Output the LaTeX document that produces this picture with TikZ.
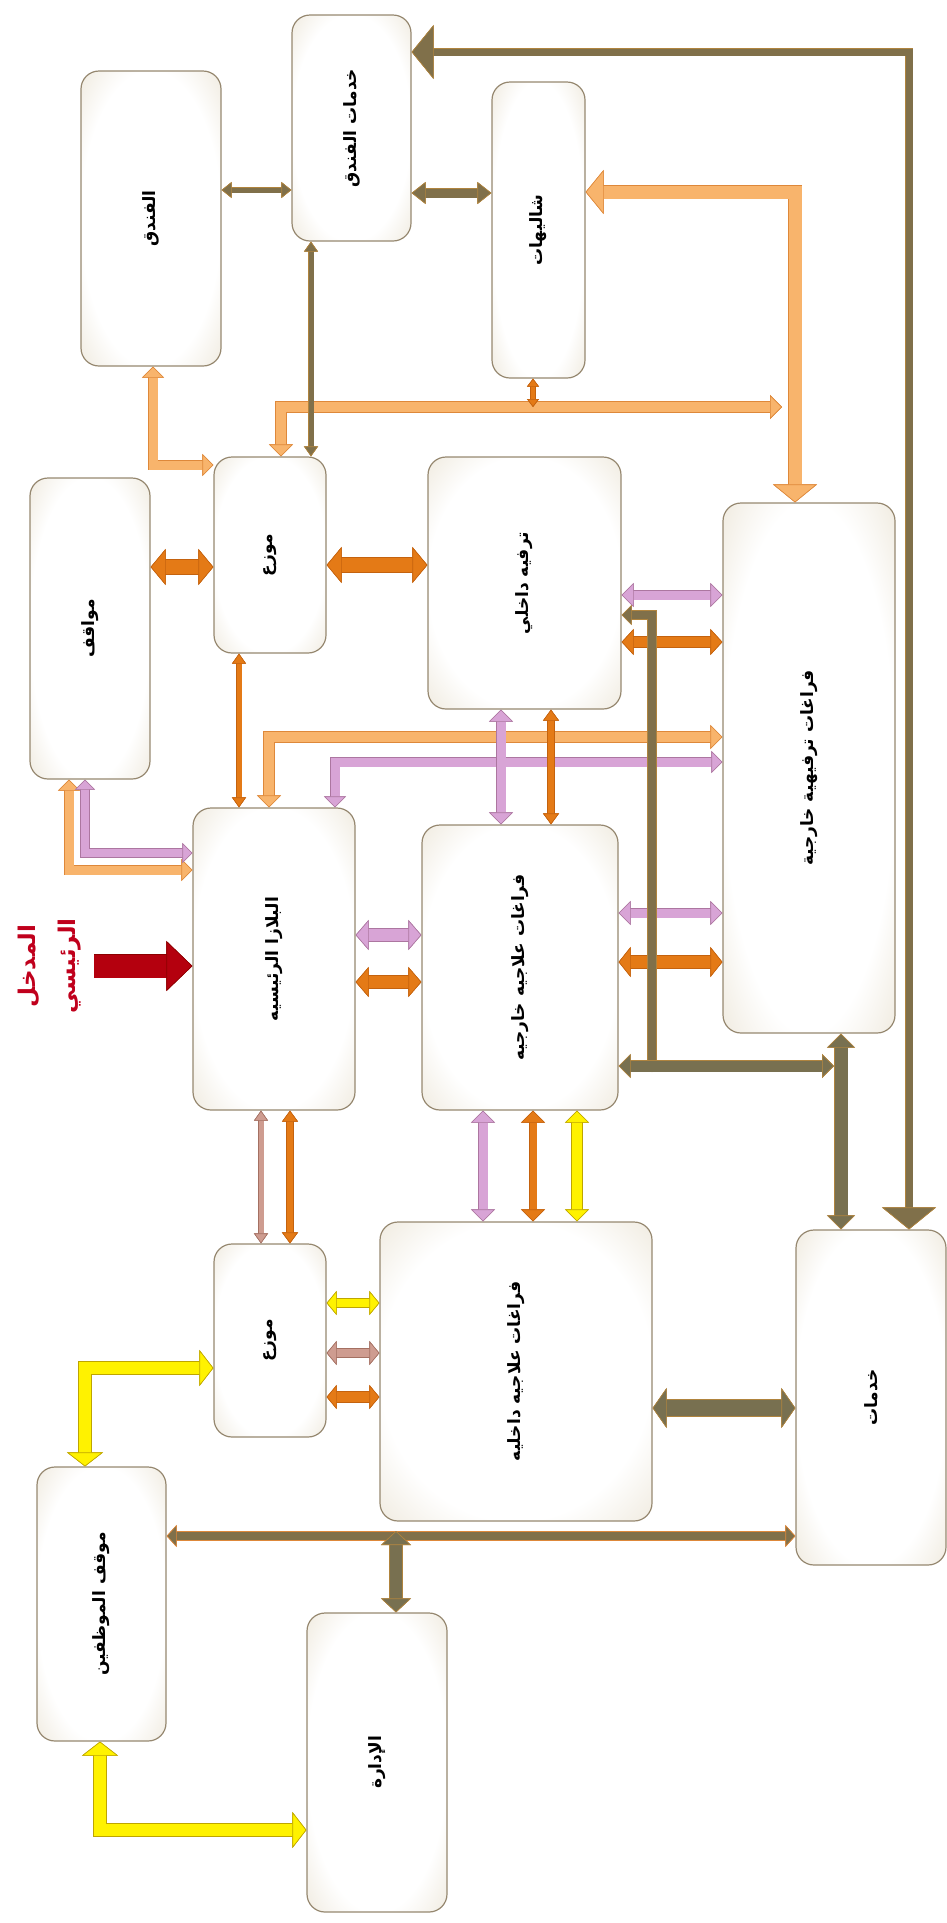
\documentclass[tikz,border=0pt]{standalone}
\usepackage{fontspec}
\usepackage{graphicx}
\newfontfamily\arabicfont[Script=Arabic]{DejaVu Sans}
\TeXXeTstate=1
\usepackage{tikz}
\usetikzlibrary{arrows.meta}
\definecolor{boxbeige}{RGB}{228,219,199}
\definecolor{boxedge}{RGB}{150,136,112}
\definecolor{mybrown}{RGB}{128,112,74}
\definecolor{mybrownedge}{RGB}{176,132,62}
\definecolor{myolive}{RGB}{120,112,80}
\definecolor{myorange}{RGB}{228,122,22}
\definecolor{myorangeedge}{RGB}{196,98,14}
\definecolor{mylightorange}{RGB}{248,180,108}
\definecolor{mylightorangeedge}{RGB}{222,136,58}
\definecolor{mypink}{RGB}{216,164,214}
\definecolor{mypinkedge}{RGB}{172,118,160}
\definecolor{myrosy}{RGB}{206,156,144}
\definecolor{myrosyedge}{RGB}{164,112,98}
\definecolor{myyellow}{RGB}{255,242,0}
\definecolor{myyellowedge}{RGB}{190,165,0}
\definecolor{myred}{RGB}{180,0,14}
\definecolor{myrededge}{RGB}{140,0,0}
\definecolor{mytextred}{RGB}{192,0,28}
\pgfdeclareradialshading{boxglow}{\pgfpoint{0bp}{0bp}}{color(0bp)=(white); color(25bp)=(white); color(44bp)=(boxbeige); color(72bp)=(boxbeige)}

\begin{document}
\begin{tikzpicture}[x=1pt, y=-1pt,
    zone/.style={draw=boxedge, line width=1.2pt, rounded corners=18pt, shade, shading=boxglow,
      inner sep=0pt, font=\arabicfont\bfseries\fontsize{17}{20}\selectfont},
    pipe/.style n args={5}{>={Triangle[length=#5pt, width=#4pt, color=#2, fill=#1, line width=0.6pt]},
      preaction={draw=#2, line width=#3pt+1.4pt}, draw=#1, line width=#3pt},
    entry/.style={text=mytextred, inner sep=0pt, font=\arabicfont\bfseries\fontsize{23}{40}\selectfont}]
  \useasboundingbox (0,0) rectangle (947,1923);

  \node[zone, minimum width=140pt, minimum height=295pt] (hotel) at (151,218.5) {\rotatebox{90}{\beginR الفندق\endR}};
  \node[zone, minimum width=119pt, minimum height=226pt] (hotelsvc) at (351.5,128) {\rotatebox{90}{\beginR خدمات الفندق\endR}};
  \node[zone, minimum width=93pt, minimum height=296pt] (chalets) at (538.5,230) {\rotatebox{90}{\beginR شاليهات\endR}};
  \node[zone, minimum width=120pt, minimum height=301pt] (parking) at (90,628.5) {\rotatebox{90}{\beginR مواقف\endR}};
  \node[zone, minimum width=112pt, minimum height=196pt] (distA) at (270,555) {\rotatebox{90}{\beginR موزع\endR}};
  \node[zone, minimum width=193pt, minimum height=252pt] (indoorfun) at (524.5,583) {\rotatebox{90}{\beginR ترفيه داخلي\endR}};
  \node[zone, minimum width=172pt, minimum height=530pt] (outfun) at (809,768) {\rotatebox{90}{\beginR فراغات ترفيهية خارجية\endR}};
  \node[zone, minimum width=162pt, minimum height=302pt] (plaza) at (274,959) {\rotatebox{90}{\beginR البلازا الرئيسيه\endR}};
  \node[zone, minimum width=196pt, minimum height=285pt] (outcure) at (520,967.5) {\rotatebox{90}{\beginR فراغات علاجيه خارجيه\endR}};
  \node[zone, minimum width=112pt, minimum height=193pt] (distB) at (270,1340.5) {\rotatebox{90}{\beginR موزع\endR}};
  \node[zone, minimum width=272pt, minimum height=299pt] (incure) at (516,1371.5) {\rotatebox{90}{\beginR فراغات علاجيه داخليه\endR}};
  \node[zone, minimum width=150pt, minimum height=335pt] (services) at (871,1397.5) {\rotatebox{90}{\beginR خدمات\endR}};
  \node[zone, minimum width=129pt, minimum height=274pt] (staffpark) at (101.5,1604) {\rotatebox{90}{\beginR موقف الموظفين\endR}};
  \node[zone, minimum width=140pt, minimum height=299pt] (admin) at (377,1762.5) {\rotatebox{90}{\beginR الإدارة\endR}};
  \node[entry] (entrance) at (48,966) {\rotatebox{90}{\begin{tabular}{@{}c@{}}\beginR المدخل\endR\\\beginR الرئيسي\endR\end{tabular}}};

  \coordinate (busA) at (782,407);
  \coordinate (busAtap) at (533,407);
  \coordinate (tapB) at (652,1066);
  \coordinate (tapC) at (841,1066);
  \coordinate (tapD) at (396,1536);

  \draw[pipe={myred}{myrededge}{23}{50}{26}, ->] (entrance.east |- 0,966) ++(6,0) -- (plaza.west |- 0,966);

  \draw[pipe={mylightorange}{mylightorangeedge}{13}{44}{18}, <->] (chalets.east |- 0,192) -| (outfun.north -| 795,0);
  \draw[pipe={mylightorange}{mylightorangeedge}{9}{22}{11}, <->] (hotel.south -| 153,0) |- (distA.west |- 0,465);
  \draw[pipe={mylightorange}{mylightorangeedge}{10}{24}{12}, <->] (distA.north -| 281,0) |- (busA);
  \draw[pipe={myorange}{myorangeedge}{4}{12}{8}, <->] (chalets.south -| busAtap) -- (busAtap);
  \draw[pipe={myorange}{myorangeedge}{14}{36}{15}, <->] (parking.east |- 0,567) -- (distA.west |- 0,567);
  \draw[pipe={myorange}{myorangeedge}{14}{36}{15}, <->] (distA.east |- 0,565) -- (indoorfun.west |- 0,565);
  \draw[pipe={mypink}{mypinkedge}{9}{24}{12}, <->] (indoorfun.east |- 0,595) -- (outfun.west |- 0,595);
  \draw[pipe={myorange}{myorangeedge}{10}{26}{12}, <->] (indoorfun.east |- 0,642) -- (outfun.west |- 0,642);
  \draw[pipe={mylightorange}{mylightorangeedge}{10}{24}{12}, <->] (plaza.north -| 269,0) |- (outfun.west |- 0,737);
  \draw[pipe={mypink}{mypinkedge}{9}{22}{11}, <->] (plaza.north -| 335,0) |- (outfun.west |- 0,762);
  \draw[pipe={myorange}{myorangeedge}{5}{14}{10}, <->] (distA.south -| 239,0) -- (plaza.north -| 239,0);
  \draw[pipe={mypink}{mypinkedge}{9}{24}{12}, <->] (indoorfun.south -| 501,0) -- (outcure.north -| 501,0);
  \draw[pipe={myorange}{myorangeedge}{6}{16}{11}, <->] (indoorfun.south -| 551,0) -- (outcure.north -| 551,0);
  \draw[pipe={mylightorange}{mylightorangeedge}{9}{22}{11}, <->] (parking.south -| 69,0) |- (plaza.west |- 0,870);
  \draw[pipe={mypink}{mypinkedge}{8}{20}{10}, <->] (parking.south -| 85,0) |- (plaza.west |- 0,853);
  \draw[pipe={mypink}{mypinkedge}{12}{30}{13}, <->] (plaza.east |- 0,935) -- (outcure.west |- 0,935);
  \draw[pipe={myorange}{myorangeedge}{12}{30}{13}, <->] (plaza.east |- 0,982) -- (outcure.west |- 0,982);
  \draw[pipe={mypink}{mypinkedge}{9}{24}{12}, <->] (outcure.east |- 0,913) -- (outfun.west |- 0,913);
  \draw[pipe={myorange}{myorangeedge}{12}{30}{12}, <->] (outcure.east |- 0,962) -- (outfun.west |- 0,962);
  \draw[pipe={myrosy}{myrosyedge}{5}{14}{10}, <->] (plaza.south -| 261,0) -- (distB.north -| 261,0);
  \draw[pipe={myorange}{myorangeedge}{6}{16}{11}, <->] (plaza.south -| 290,0) -- (distB.north -| 290,0);
  \foreach \x/\c/\e/\w in {483/mypink/mypinkedge/9, 533/myorange/myorangeedge/7, 577/myyellow/myyellowedge/10}
    \draw[pipe={\c}{\e}{\w}{24}{12}, <->] (outcure.south -| \x,0) -- (incure.north -| \x,0);
  \foreach \y/\c/\e/\w in {1303/myyellow/myyellowedge/8, 1353/myrosy/myrosyedge/8, 1397/myorange/myorangeedge/10}
    \draw[pipe={\c}{\e}{\w}{24}{10}, <->] (distB.east |- 0,\y) -- (incure.west |- 0,\y);
  \draw[pipe={myyellow}{myyellowedge}{12}{36}{14}, <->] (staffpark.north -| 85,0) |- (distB.west |- 0,1368);
  \draw[pipe={myyellow}{myyellowedge}{12}{36}{14}, <->] (staffpark.south -| 100,0) |- (admin.west |- 0,1830);

  \draw[pipe={mybrown}{mybrownedge}{7}{54}{22}, <->] (hotelsvc.east |- 0,52) -| (services.north -| 909,0);
  \draw[pipe={mybrown}{mybrownedge}{5}{16}{10}, <->] (hotel.east |- 0,190) -- (hotelsvc.west |- 0,190);
  \draw[pipe={mybrown}{mybrownedge}{9}{22}{14}, <->] (hotelsvc.east |- 0,193) -- (chalets.west |- 0,193);
  \draw[pipe={mybrown}{mybrownedge}{5}{14}{10}, <->] (hotelsvc.south -| 311,0) -- (distA.north -| 311,0);
  \draw[pipe={mybrown}{mybrownedge}{8}{20}{10}, <->] (indoorfun.east |- 0,615) -| ([yshift=-6pt]tapB);
  \draw[pipe={myolive}{mybrownedge}{11}{24}{12}, <->] (outcure.east |- tapB) -- ([xshift=-7pt]tapC);
  \draw[pipe={myolive}{mybrownedge}{13}{28}{14}, <->] (outfun.south -| tapC) -- (services.north -| tapC);
  \draw[pipe={myolive}{mybrownedge}{16}{40}{14}, <->] (incure.east |- 0,1408) -- (services.west |- 0,1408);
  \draw[pipe={mybrown}{mylightorangeedge}{8}{22}{10}, <->] (staffpark.east |- tapD) -- (services.west |- tapD);
  \draw[pipe={myolive}{mybrownedge}{12}{30}{14}, <->] (admin.north -| tapD) -- ([yshift=5pt]tapD);
\end{tikzpicture}
\end{document}
